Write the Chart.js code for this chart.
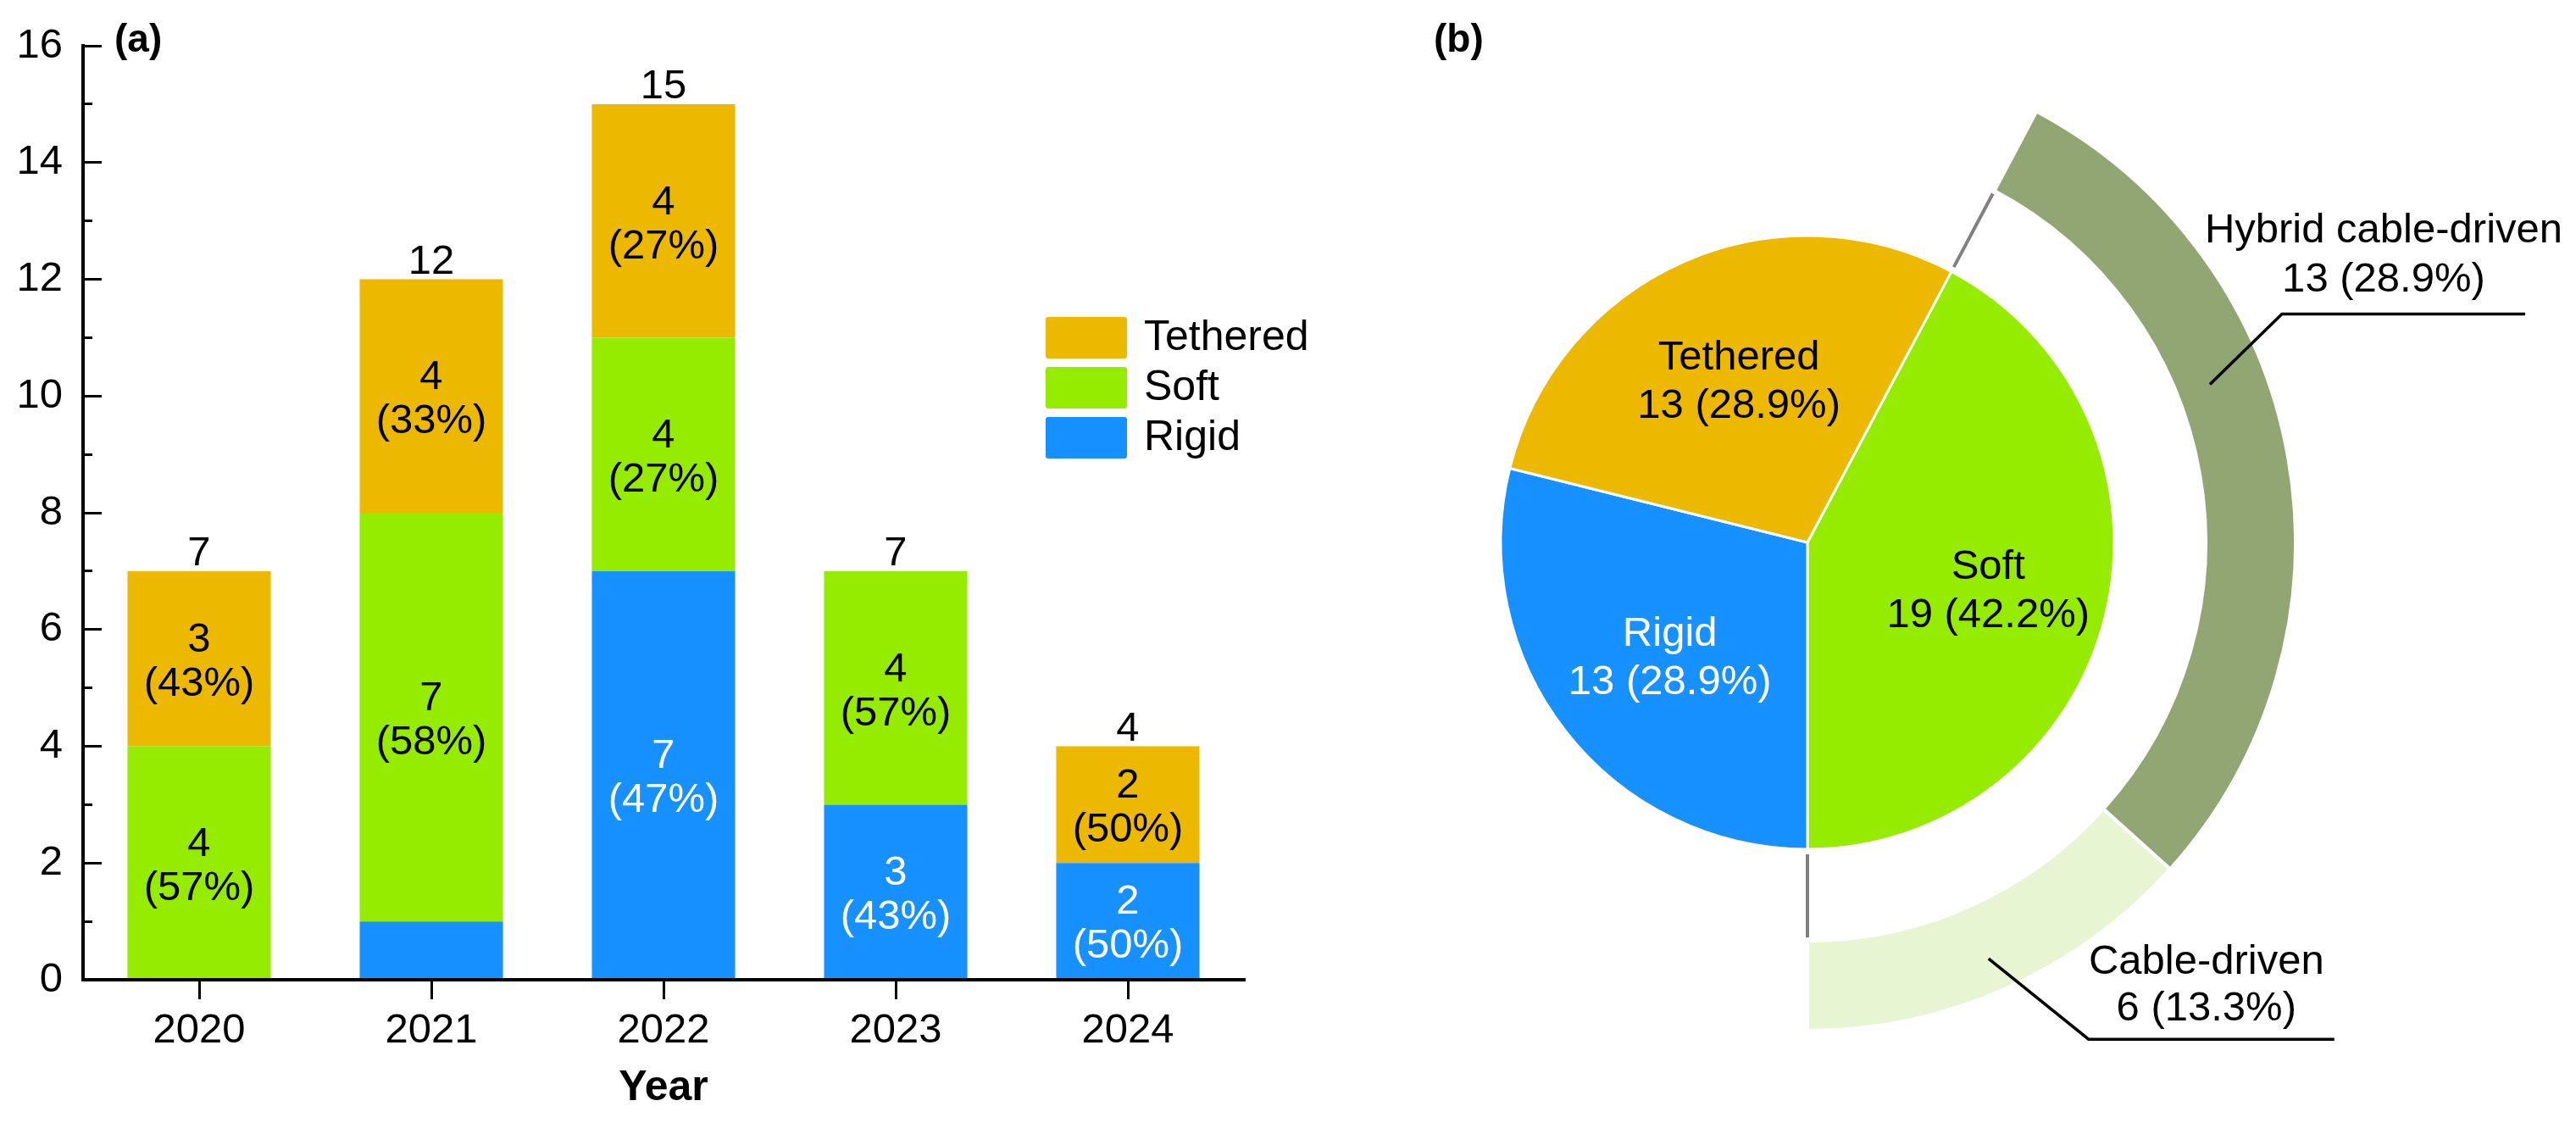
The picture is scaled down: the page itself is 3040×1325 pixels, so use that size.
<!DOCTYPE html>
<html><head><meta charset="utf-8">
<script src="https://cdn.jsdelivr.net/npm/chart.js@4.4.1/dist/chart.umd.min.js"></script>
<style>
html,body{margin:0;padding:0;background:#fff;overflow:hidden;}
#wrap{position:relative;width:3040px;height:1325px;background:#fff;}
#bar{position:absolute;left:0;top:0;}
#pie{position:absolute;left:1560px;top:0;}
</style></head><body>
<div id="wrap"><canvas id="bar" width="1560" height="1325"></canvas><canvas id="pie" width="1480" height="1325"></canvas></div>
<script>
// ---------- data ----------
const years = ['2020', '2021', '2022', '2023', '2024'];
const rigid = [0, 1, 7, 3, 2];
const soft = [4, 7, 4, 4, 0];
const tethered = [3, 4, 4, 0, 2];
const yMin = 0, yMax = 16, yStep = 2;

const pieLabels = ['Soft', 'Rigid', 'Tethered'];
const pieValues = [19, 13, 13];
const ringLabels = ['Hybrid cable-driven', 'Cable-driven'];
const ringValues = [13, 6];

// ---------- style ----------
const FONT = '"Liberation Sans", Arial, Helvetica, sans-serif';
Chart.defaults.font.family = FONT;
Chart.defaults.color = '#000';
const C_RIGID = '#1791FF', C_SOFT = '#96EC00', C_TETH = '#EDB900';
const C_HYB = '#91A673', C_CAB = '#E7F5D3';

const totals = years.map((_, i) => rigid[i] + soft[i] + tethered[i]);

function noPad(s) { s.paddingTop = 0; s.paddingBottom = 0; s.paddingLeft = 0; s.paddingRight = 0; }

// ---------- bar chart plugins ----------
const barLabelPlugin = {
  id: 'barLabelPlugin',
  afterDatasetsDraw(chart) {
    const ctx = chart.ctx;
    ctx.save();
    ctx.textAlign = 'center';
    ctx.textBaseline = 'alphabetic';
    ctx.font = '49px ' + FONT;
    chart.data.datasets.forEach((ds, di) => {
      const meta = chart.getDatasetMeta(di);
      meta.data.forEach((bar, i) => {
        const v = ds.data[i];
        if (v < 2) return;
        const pct = Math.round(v / totals[i] * 100);
        const cy = (bar.y + bar.base) / 2;
        ctx.fillStyle = ds.labelColor;
        ctx.fillText(String(v), bar.x, cy - 8);
        ctx.fillText('(' + pct + '%)', bar.x, cy + 44);
      });
    });
    // totals above stacks
    const ys = chart.scales.y;
    const meta0 = chart.getDatasetMeta(0);
    ctx.fillStyle = '#000';
    totals.forEach((t, i) => {
      const x = meta0.data[i].x;
      ctx.fillText(String(t), x, ys.getPixelForValue(t) - 7);
    });
    // legend (top series first)
    ctx.textAlign = 'left';
    ctx.font = '50px ' + FONT;
    const order = [2, 1, 0];
    order.forEach((di, k) => {
      const ds = chart.data.datasets[di];
      const bx = 1234, by = 374 + k * 59;
      ctx.fillStyle = ds.backgroundColor;
      ctx.beginPath();
      if (ctx.roundRect) ctx.roundRect(bx, by, 96, 49, 3); else ctx.rect(bx, by, 96, 49);
      ctx.fill();
      ctx.fillStyle = '#000';
      ctx.fillText(ds.label, 1350, by + 39);
    });
    // panel tag
    ctx.font = 'bold 46px ' + FONT;
    ctx.fillText('(a)', 135, 61);
    ctx.restore();
  }
};

new Chart(document.getElementById('bar'), {
  type: 'bar',
  data: {
    labels: years,
    datasets: [
      { label: 'Rigid', data: rigid, backgroundColor: C_RIGID, labelColor: '#fff' },
      { label: 'Soft', data: soft, backgroundColor: C_SOFT, labelColor: '#000' },
      { label: 'Tethered', data: tethered, backgroundColor: C_TETH, labelColor: '#000' }
    ].map(d => Object.assign(d, { yAxisID: 'y', borderWidth: 0, barPercentage: 0.617, categoryPercentage: 1 }))
  },
  options: {
    responsive: false, animation: false, devicePixelRatio: 1, events: [],
    layout: { padding: { top: 54, right: 92, left: 0, bottom: 0 } },
    plugins: { legend: { display: false }, tooltip: { enabled: false } },
    scales: {
      x: {
        stacked: true, offset: true,
        grid: { display: true, drawOnChartArea: false, drawTicks: true, tickLength: 23, offset: false, color: '#000', lineWidth: 3 },
        border: { display: true, color: '#000', width: 4, z: 1 },
        ticks: { color: '#000', font: { size: 49 }, padding: 8, maxRotation: 0, autoSkip: false },
        title: { display: true, text: 'Year', color: '#000', font: { size: 50, weight: 'bold' }, padding: { top: 0, bottom: 11 } },
        afterFit(s) { s.height = 169; noPad(s); }
      },
      y: {
        stacked: true, min: yMin, max: yMax, weight: 1, position: 'left',
        ticks: { stepSize: yStep, color: '#000', font: { size: 49 }, padding: 46 },
        grid: { drawOnChartArea: false, tickLength: -22, color: '#000', lineWidth: 3 },
        border: { display: true, color: '#000', width: 4, z: 1 },
        afterFit(s) { s.width = 98; noPad(s); }
      },
      y2: {
        type: 'linear', position: 'left', min: yMin, max: yMax, weight: 0,
        ticks: { stepSize: yStep / 2, display: false },
        grid: { drawOnChartArea: false, tickLength: -11, color: '#000', lineWidth: 3 },
        border: { display: false },
        afterFit(s) { s.width = 0; noPad(s); }
      }
    }
  },
  plugins: [barLabelPlugin]
});

// ---------- pie + ring ----------
const pieTotal = pieValues.reduce((a, b) => a + b, 0);
const softShare = pieValues[0] / pieTotal;
const startDeg = 180 - softShare * 360;     // soft slice ends at 6 o'clock
const PIE_R = 362, RING_IN = 470, RING_OUT = 576;

function pct(v) { return (v / pieTotal * 100).toFixed(1) + '%'; }

const pieLabelPlugin = {
  id: 'pieLabelPlugin',
  afterDatasetsDraw(chart) {
    const ctx = chart.ctx;
    const ringMeta = chart.getDatasetMeta(0);
    const pieMeta = chart.getDatasetMeta(1);
    ctx.save();
    ctx.textAlign = 'center';
    ctx.textBaseline = 'alphabetic';
    ctx.font = '49px ' + FONT;
    const txtColors = ['#000', '#fff', '#000'];
    pieMeta.data.forEach((arc, i) => {
      const p = arc.getProps(['x', 'y', 'startAngle', 'endAngle', 'outerRadius'], true);
      const mid = (p.startAngle + p.endAngle) / 2;
      const r = p.outerRadius * 0.59;
      const cx = p.x + Math.cos(mid) * r + 6, cy = p.y + Math.sin(mid) * r;
      ctx.fillStyle = txtColors[i];
      ctx.fillText(pieLabels[i], cx, cy - 9);
      ctx.fillText(pieValues[i] + ' (' + pct(pieValues[i]) + ')', cx, cy + 48);
    });
    // grey connectors at the edges of the soft slice
    const s = pieMeta.data[0].getProps(['x', 'y', 'startAngle', 'endAngle', 'outerRadius'], true);
    const rin = ringMeta.data[0].getProps(['innerRadius'], true).innerRadius;
    ctx.strokeStyle = '#808080';
    ctx.lineWidth = 4;
    [s.startAngle, s.endAngle].forEach(a => {
      ctx.beginPath();
      ctx.moveTo(s.x + Math.cos(a) * (s.outerRadius + 6), s.y + Math.sin(a) * (s.outerRadius + 6));
      ctx.lineTo(s.x + Math.cos(a) * (rin - 4), s.y + Math.sin(a) * (rin - 4));
      ctx.stroke();
    });
    // callouts for the outer ring
    const call = [
      { frac: 0.39, rf: 0.38, ex: 85, ey: -83, len: 287, tx: 120, t1: -84, t2: -26 },
      { frac: 0.51, rf: 0.62, ex: 118, ey: 95, len: 290, tx: 139, t1: -77, t2: -22 }
    ];
    ctx.strokeStyle = '#000';
    ctx.lineWidth = 3.5;
    ctx.fillStyle = '#000';
    ringMeta.data.forEach((arc, i) => {
      const p = arc.getProps(['x', 'y', 'startAngle', 'endAngle', 'innerRadius', 'outerRadius'], true);
      const c = call[i];
      const a = p.startAngle + c.frac * (p.endAngle - p.startAngle);
      const rr = p.innerRadius + c.rf * (p.outerRadius - p.innerRadius);
      const ax = p.x + Math.cos(a) * rr, ay = p.y + Math.sin(a) * rr;
      const exx = ax + c.ex, eyy = ay + c.ey;
      ctx.beginPath();
      ctx.moveTo(ax, ay); ctx.lineTo(exx, eyy); ctx.lineTo(exx + c.len, eyy);
      ctx.stroke();
      ctx.fillText(ringLabels[i], exx + c.tx, eyy + c.t1);
      ctx.fillText(ringValues[i] + ' (' + pct(ringValues[i]) + ')', exx + c.tx, eyy + c.t2);
    });
    ctx.textAlign = 'left';
    ctx.font = 'bold 46px ' + FONT;
    ctx.fillText('(b)', 132, 61);
    ctx.restore();
  }
};

new Chart(document.getElementById('pie'), {
  type: 'doughnut',
  data: {
    labels: pieLabels,
    datasets: [
      {
        label: 'Soft subtypes', data: ringValues, backgroundColor: [C_HYB, C_CAB],
        borderColor: '#fff', borderWidth: 4,
        radius: RING_OUT, cutout: ((1 - 2 * (RING_OUT - RING_IN) / RING_OUT) * 100) + '%',
        rotation: startDeg, circumference: softShare * 360
      },
      {
        label: 'Type', data: pieValues, backgroundColor: [C_SOFT, C_RIGID, C_TETH],
        borderColor: '#fff', borderWidth: 3,
        radius: 2 * PIE_R, cutout: '0%',
        rotation: startDeg, circumference: 360
      }
    ]
  },
  options: {
    responsive: false, animation: false, devicePixelRatio: 1, events: [],
    layout: { padding: { left: 0, right: 334, top: 0, bottom: 45 } },
    plugins: { legend: { display: false }, tooltip: { enabled: false } }
  },
  plugins: [pieLabelPlugin]
});
</script>
</body></html>
